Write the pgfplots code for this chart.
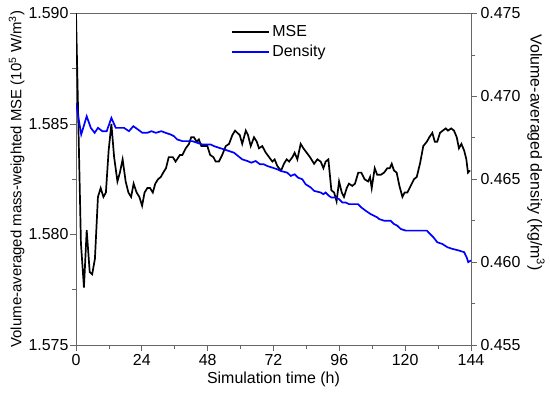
\documentclass[border=0pt]{standalone}
\usepackage{fontspec}
\setmainfont{Liberation Sans}
\usepackage{pgfplots}
\pgfplotsset{compat=1.18}
\pgfplotsset{
  every axis/.append style={
    width=395bp, height=331.5bp, scale only axis,
    xmin=0, xmax=144,
    axis line style={black!60, line width=0.8bp},
    tick style={black!60, line width=0.8bp},
    tick align=outside,
    major tick length=6bp, minor tick length=4bp,
    ticklabel style={font=\fontsize{16}{19}\selectfont, text=black},
    label style={font=\fontsize{16}{19}\selectfont, inner sep=0pt},
    /pgf/number format/assume math mode=true,
    scaled ticks=false,
  }
}
\begin{document}
\begin{tikzpicture}
\useasboundingbox (-76bp,-49bp) rectangle (474bp,345bp);
\begin{axis}[
  ymin=1.575, ymax=1.590,
  ytick={1.575,1.580,1.585,1.590},
  minor ytick={1.5775,1.5825,1.5875},
  xtick={0,24,48,72,96,120,144},
  minor xtick={12,36,60,84,108,132},
  tick pos=left,
  yticklabel style={/pgf/number format/fixed, /pgf/number format/fixed zerofill, /pgf/number format/precision=3, xshift=2bp},
  xlabel={Simulation time (h)},
  xlabel style={at={(axis description cs:0.5,-0.08)}, anchor=north},
  ylabel={Volume-averaged mass-weighted MSE (10\textsuperscript{5} W/m\textsuperscript{3})},
  ylabel style={at={(axis description cs:-0.13,0.5)}, anchor=south, font=\fontsize{15}{18}\selectfont},
  legend style={draw=none, fill=none, at={(axis description cs:0.385,0.977)}, anchor=north west,
    font=\fontsize{16}{19}\selectfont},
  legend image code/.code={\draw[black, line width=2.1bp] (0bp,0bp) -- (37bp,0bp);},
]
\addplot[black, line width=1.7bp] coordinates {
(0,1.5900) (1.8,1.5796) (2.9,1.5776) (3.9,1.5802) (5.0,1.5783) (5.9,1.5782)
(6.9,1.5789) (8.0,1.5817) (9.0,1.5821) (10.0,1.5817) (10.9,1.5819) (11.9,1.5838)
(12.9,1.5850) (13.9,1.5835) (15.1,1.5824) (16.0,1.5828) (17.0,1.5834) (18.1,1.5824)
(19.1,1.5819) (20.1,1.5817) (21.0,1.5823) (22.1,1.5819) (23.1,1.5817) (24.1,1.5813)
(25.0,1.5819) (26.0,1.5821) (27.0,1.5821) (28.0,1.5819) (28.9,1.5823) (29.9,1.5825)
(30.9,1.5826) (31.8,1.5828) (32.8,1.5830) (33.8,1.5835) (35.3,1.5835) (36.3,1.5833)
(37.9,1.5836) (38.8,1.5836) (40.0,1.5839) (41.2,1.5841) (42.0,1.5844) (43.0,1.5844)
(44.0,1.5842) (44.8,1.5843) (45.7,1.5840) (46.7,1.5840) (47.9,1.5840) (48.9,1.5836)
(50.1,1.5835) (50.9,1.5833) (52.1,1.5833) (53.3,1.5836) (54.6,1.5840) (55.8,1.5841)
(57.0,1.5845) (58.0,1.5847) (58.8,1.5846) (59.7,1.5845) (60.6,1.5841) (61.9,1.5847)
(62.7,1.5845) (63.7,1.5840) (64.9,1.5844) (65.9,1.5842) (66.7,1.5839) (67.9,1.5840)
(69.2,1.5837) (70.4,1.5835) (71.6,1.5833) (72.4,1.5834) (73.4,1.5831) (74.0,1.5830)
(74.8,1.5829) (75.8,1.5832) (76.8,1.5834) (77.7,1.5833) (78.9,1.5835) (79.7,1.5837)
(80.7,1.5834) (81.9,1.5841) (82.9,1.5839) (84.1,1.5837) (85.3,1.5835) (86.8,1.5832)
(88.0,1.5834) (89.2,1.5833) (90.2,1.5830) (91.0,1.5833) (92.0,1.5834) (93.1,1.5820)
(94.1,1.5819) (95.0,1.5815) (95.9,1.5824) (96.9,1.5819) (97.7,1.5817) (98.7,1.5821)
(99.5,1.5823) (100.7,1.5822) (101.7,1.5823) (102.9,1.5828) (104.0,1.5828) (105.2,1.5825)
(106.5,1.5824) (107.2,1.5826) (107.8,1.5821) (108.9,1.5830) (109.8,1.5827) (111.1,1.5827)
(112.3,1.5828) (113.5,1.5830) (114.4,1.5830) (115.1,1.5832) (115.9,1.5829) (116.9,1.5828)
(117.9,1.5822) (119.0,1.5817) (119.8,1.5819) (120.8,1.5819) (122.0,1.5822) (123.2,1.5825)
(124.2,1.5826) (125.4,1.5832) (126.6,1.5840) (127.9,1.5842) (128.8,1.5844) (129.9,1.5846)
(130.8,1.5842) (131.7,1.5842) (132.7,1.5846) (133.7,1.5847) (134.8,1.5848) (135.6,1.5847)
(136.8,1.5848) (137.8,1.5847) (138.8,1.5844) (139.6,1.5839) (140.5,1.5841) (141.5,1.5838)
(142.3,1.5834) (142.9,1.5828) (143.6,1.5829)
};
\addlegendentry{MSE}
\end{axis}
\begin{axis}[
  axis x line=none,
  axis y line*=right,
  ymin=0.455, ymax=0.475,
  ytick={0.455,0.460,0.465,0.470,0.475},
  minor ytick={0.4575,0.4625,0.4675,0.4725},
  yticklabel style={/pgf/number format/fixed, /pgf/number format/fixed zerofill, /pgf/number format/precision=3},
  ylabel={Volume-averaged density (kg/m\textsuperscript{3})},
  ylabel style={at={(axis description cs:1.142,0.58)}, anchor=south, rotate=180},
  legend style={draw=none, fill=none, at={(axis description cs:0.385,0.917)}, anchor=north west,
    font=\fontsize{16}{19}\selectfont},
  legend image code/.code={\draw[blue, line width=2.1bp] (0bp,0bp) -- (37bp,0bp);},
]
\addplot[blue, line width=1.7bp] coordinates {
(0,0.4696) (1.9,0.4677) (3.9,0.4688) (5.4,0.4681) (6.8,0.4678) (8.0,0.4681)
(9.6,0.4679) (11.2,0.4679) (12.9,0.4687) (14.5,0.4681) (16.3,0.4681) (17.5,0.4681)
(19.3,0.4679) (20.9,0.4682) (22.6,0.4680) (24.2,0.4678) (26.0,0.4678) (27.5,0.4679)
(29.1,0.4678) (31.1,0.4679) (32.7,0.4678) (34.5,0.4677) (35.7,0.4676) (36.9,0.4674)
(38.8,0.4673) (41.2,0.4673) (42.4,0.4673) (44.2,0.4672) (46.0,0.4671) (49.1,0.4671)
(50.3,0.4670) (52.1,0.4669) (54.0,0.4668) (55.8,0.4667) (57.6,0.4666) (59.1,0.4664)
(60.6,0.4662) (62.5,0.4661) (63.9,0.4660) (65.5,0.4661) (67.1,0.4659) (68.5,0.4659)
(69.7,0.4658) (71.6,0.4657) (73.4,0.4656) (74.6,0.4655) (77.0,0.4654) (78.3,0.4652)
(79.7,0.4653) (80.9,0.4651) (82.5,0.4650) (83.7,0.4647) (85.6,0.4645) (86.8,0.4643)
(89.2,0.4642) (90.2,0.4641) (91.0,0.4642) (92.2,0.4640) (93.1,0.4639) (94.7,0.4639)
(95.9,0.4638) (97.1,0.4636) (98.3,0.4636) (99.5,0.4635) (101.1,0.4635) (102.8,0.4635)
(104.0,0.4633) (105.6,0.4631) (107.4,0.4629) (108.6,0.4628) (109.8,0.4627) (110.5,0.4626)
(112.3,0.4625) (114.7,0.4625) (115.9,0.4623) (117.1,0.4622) (118.4,0.4620) (120.2,0.4619)
(123.8,0.4619) (127.9,0.4619) (129.1,0.4617) (130.3,0.4615) (131.7,0.4612) (133.5,0.4611)
(135.4,0.4609) (137.2,0.4608) (139.6,0.4607) (141.5,0.4606) (142.4,0.4603) (143.0,0.4600)
(144.0,0.4601)
};
\addlegendentry{Density}
\end{axis}
\end{tikzpicture}
\end{document}
